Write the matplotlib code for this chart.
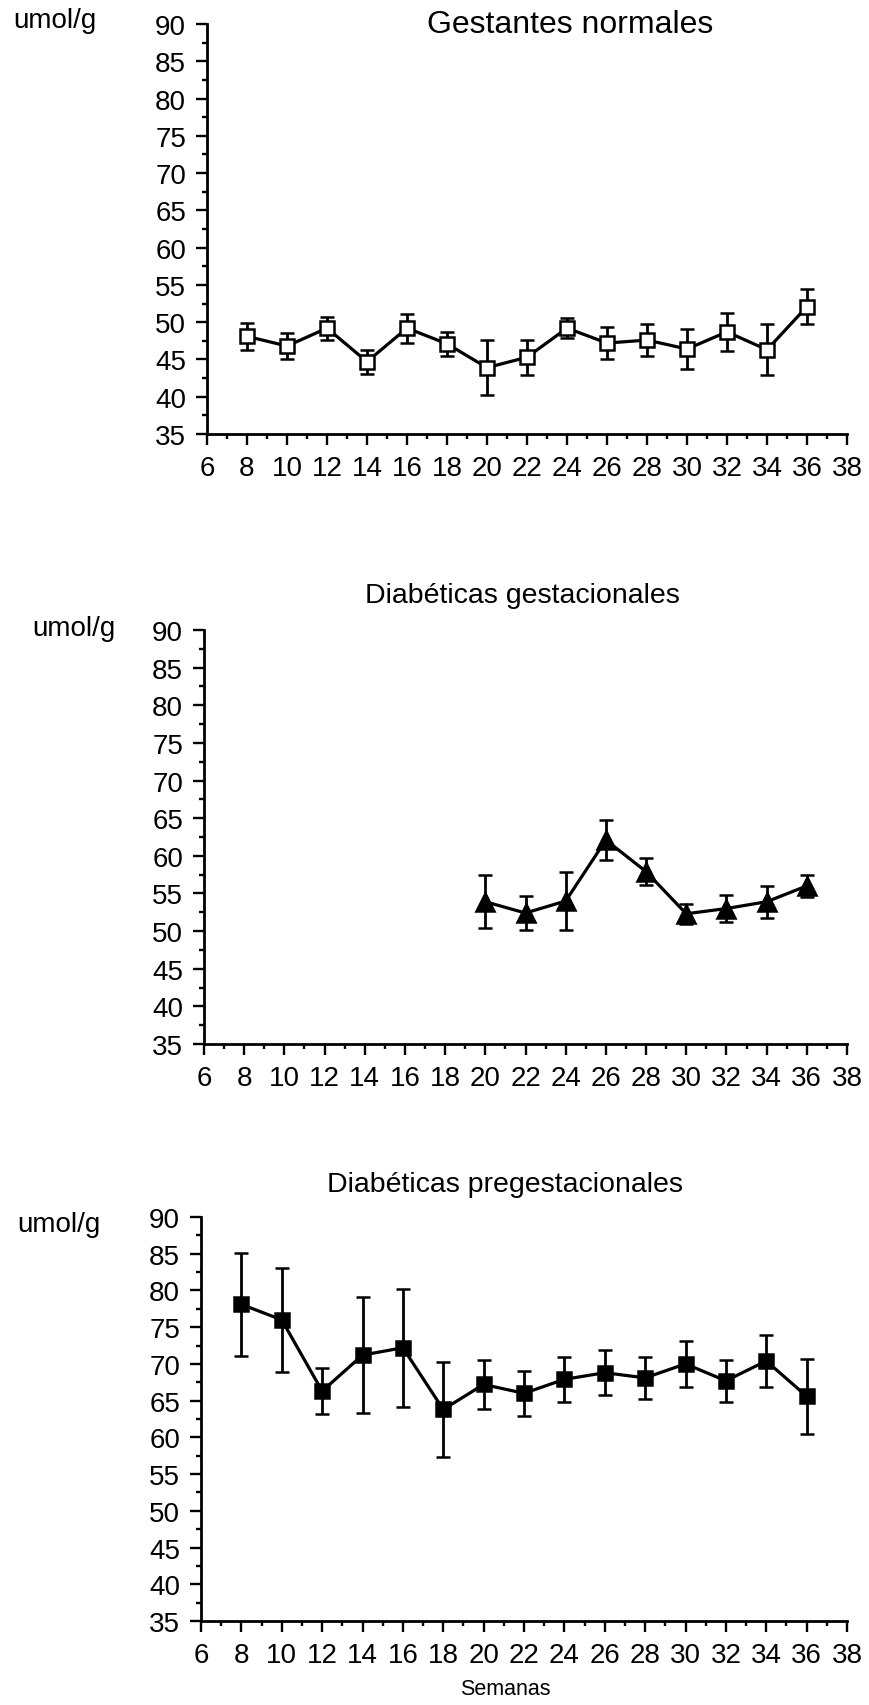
import matplotlib
matplotlib.use('Agg')
import matplotlib.pyplot as plt
from matplotlib.ticker import MultipleLocator

plt.rcParams['font.family'] = ['Liberation Sans', 'DejaVu Sans']

# Semanas de gestación
semanas = [8, 10, 12, 14, 16, 18, 20, 22, 24, 26, 28, 30, 32, 34, 36]
semanas_gest = [20, 22, 24, 26, 28, 30, 32, 34, 36]

# Gestantes normales (umol/g) y error
normales = [48.1, 46.8, 49.2, 44.7, 49.2, 47.1, 43.9, 45.3, 49.2, 47.2, 47.6, 46.4, 48.7, 46.3, 52.1]
err_normales = [1.8, 1.8, 1.55, 1.6, 1.95, 1.65, 3.65, 2.35, 1.3, 2.1, 2.1, 2.65, 2.5, 3.4, 2.3]

# Diabéticas gestacionales
gestacionales = [53.9, 52.4, 54.0, 62.1, 57.9, 52.3, 53.0, 53.9, 56.0]
err_gestacionales = [3.5, 2.3, 3.9, 2.65, 1.8, 1.3, 1.8, 2.1, 1.5]

# Diabéticas pregestacionales
pregestacionales = [78.1, 76.0, 66.3, 71.2, 72.2, 63.8, 67.2, 66.0, 67.9, 68.8, 68.1, 70.0, 67.7, 70.4, 65.6]
err_pregestacionales = [7.0, 7.05, 3.1, 7.9, 8.0, 6.5, 3.35, 3.1, 3.05, 3.1, 2.85, 3.1, 2.85, 3.55, 5.1]

W, H = 869, 1706
fig = plt.figure(figsize=(W / 100, H / 100), dpi=100)


def eje(left, top, right, bottom):
    # crea un eje a partir de coordenadas en píxeles
    ax = fig.add_axes([left / W, 1 - bottom / H, (right - left) / W, (bottom - top) / H])
    ax.set_xlim(6, 38)
    ax.set_ylim(35, 90)
    for s in ['top', 'right']:
        ax.spines[s].set_visible(False)
    for s in ['left', 'bottom']:
        ax.spines[s].set_linewidth(2.0)
    ax.xaxis.set_major_locator(MultipleLocator(2))
    ax.xaxis.set_minor_locator(MultipleLocator(1))
    ax.yaxis.set_major_locator(MultipleLocator(5))
    ax.yaxis.set_minor_locator(MultipleLocator(2.5))
    ax.tick_params(which='major', direction='out', length=8, width=1.7, labelsize=20)
    ax.tick_params(which='minor', direction='out', length=3.5, width=1.7)
    ax.tick_params(axis='y', pad=7)
    ax.tick_params(axis='x', pad=7)
    return ax


def serie(ax, x, y, err, marker, face, ms):
    ax.errorbar(x, y, yerr=err, fmt='none', ecolor='black', elinewidth=2.0,
                capsize=4.7, capthick=1.8, zorder=2)
    ax.plot(x, y, '-', color='black', linewidth=2.3, marker=marker, markersize=ms,
            markerfacecolor=face, markeredgecolor='black', markeredgewidth=1.8, zorder=3)


# Gestantes normales
ax1 = eje(207, 25, 847, 435)
serie(ax1, semanas, normales, err_normales, 's', 'white', 9.5)
fig.text(570 / W, 1 - 25 / H, 'Gestantes normales', fontsize=23, ha='center', va='center')
fig.text(13 / W, 1 - 28 / H, 'umol/g', fontsize=20, ha='left', va='baseline')

# Diabéticas gestacionales
ax2 = eje(204, 631, 847, 1045)
serie(ax2, semanas_gest, gestacionales, err_gestacionales, '^', 'black', 13)
fig.text(522 / W, 1 - 596 / H, 'Diabéticas gestacionales', fontsize=20.5, ha='center', va='center')
fig.text(32 / W, 1 - 636 / H, 'umol/g', fontsize=20, ha='left', va='baseline')

# Diabéticas pregestacionales
ax3 = eje(201, 1218, 847, 1622)
serie(ax3, semanas, pregestacionales, err_pregestacionales, 's', 'black', 10.5)
fig.text(505 / W, 1 - 1185 / H, 'Diabéticas pregestacionales', fontsize=20.5, ha='center', va='center')
fig.text(17 / W, 1 - 1232 / H, 'umol/g', fontsize=20, ha='left', va='baseline')
fig.text(505 / W, 1 - 1690 / H, 'Semanas', fontsize=15.5, ha='center', va='center')

fig.savefig('out.png', dpi=100, facecolor='white')
